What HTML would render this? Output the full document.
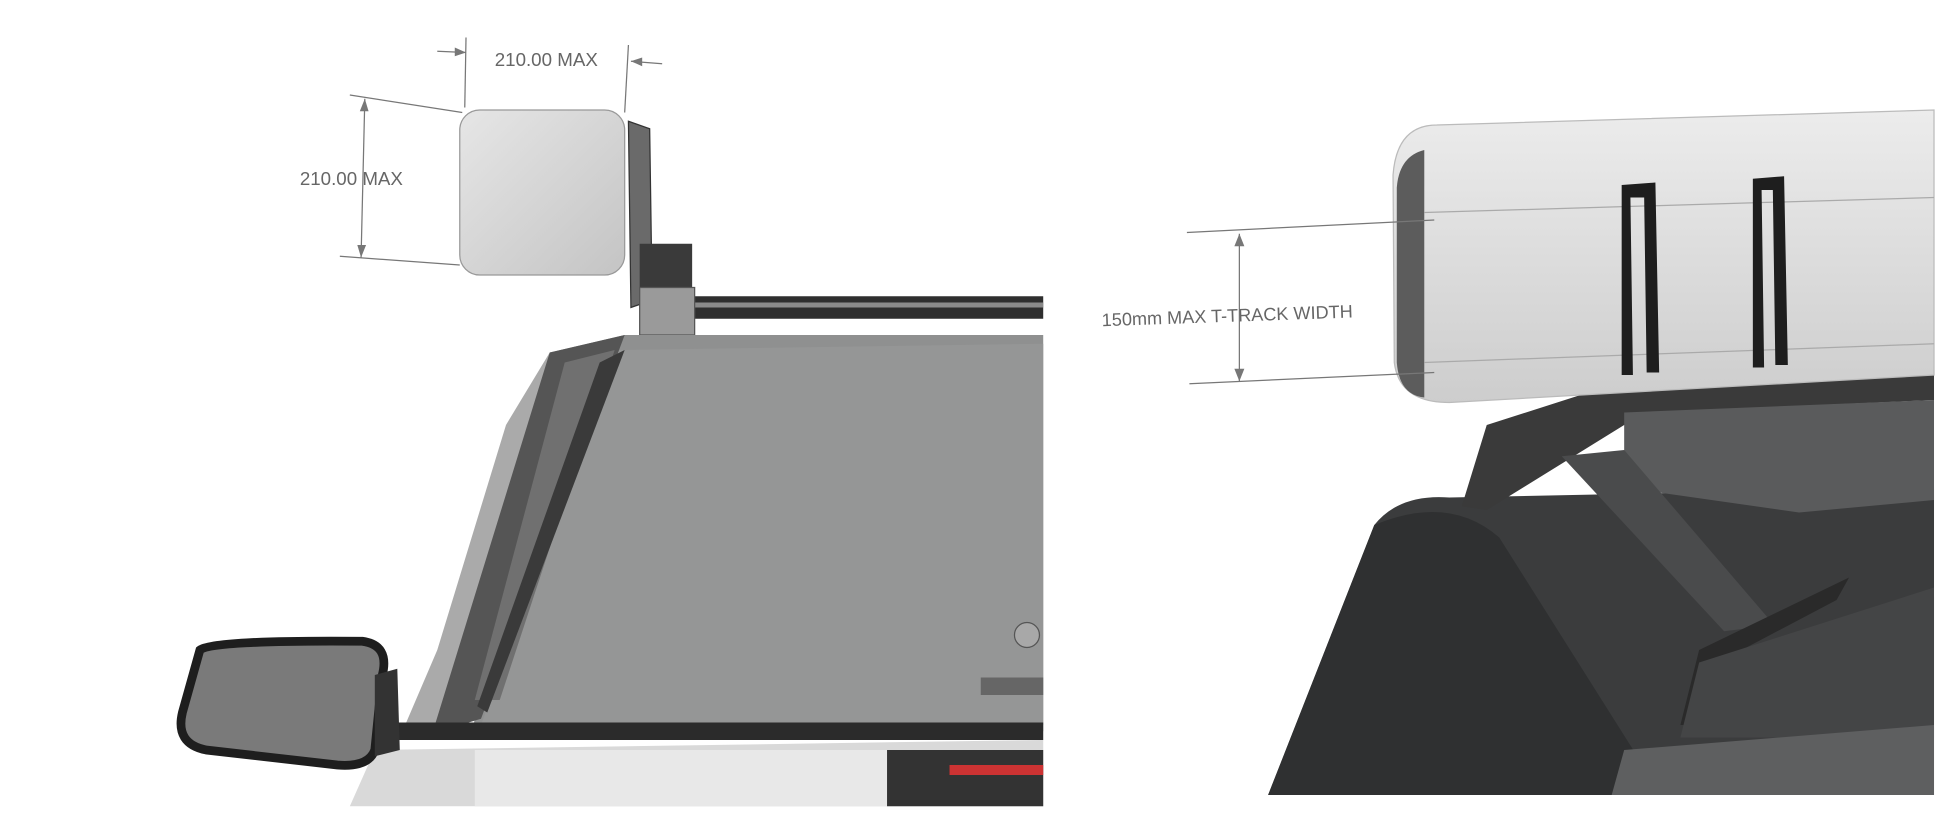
<!DOCTYPE html>
<html><head><meta charset="utf-8"><style>
html,body{margin:0;padding:0;background:#fff;}
svg{display:block;}
text{font-family:"Liberation Sans",sans-serif;fill:#666;}
</style></head><body>
<svg width="1959" height="825" viewBox="0 0 1568 660" xmlns="http://www.w3.org/2000/svg" preserveAspectRatio="none">
<defs>
<linearGradient id="box" x1="0" y1="0" x2="1" y2="1"><stop offset="0" stop-color="#e6e6e6"/><stop offset="1" stop-color="#c4c4c4"/></linearGradient>
<linearGradient id="lbox" x1="0" y1="0" x2="0" y2="1"><stop offset="0" stop-color="#ececec"/><stop offset="1" stop-color="#cdcdcd"/></linearGradient>
</defs>
<rect width="1568" height="660" fill="#fff"/>

<!-- LEFT PANEL -->
<rect x="550" y="237" width="285" height="18" fill="#2e2e2e"/>
<rect x="550" y="242" width="285" height="4" fill="#8a8a8a"/>
<polygon points="503,97 520,103 522,240 505,246" fill="#6a6a6a" stroke="#333"/>
<rect x="512" y="195" width="42" height="35" fill="#3a3a3a"/>
<rect x="512" y="230" width="44" height="38" fill="#9a9a9a" stroke="#555"/>
<rect x="368" y="88" width="132" height="132" rx="16" fill="url(#box)" stroke="#999"/>
<polygon points="440,282 500,268 835,268 835,585 378,585" fill="#8f9090"/>
<polygon points="495,280 835,275 835,580 385,580" fill="#959696"/>
<polygon points="440,282 500,268 385,575 335,590 345,540" fill="#555" />
<polygon points="452,290 492,280 400,560 380,560" fill="#707070"/>
<polygon points="480,290 500,280 390,570 382,565" fill="#3a3a3a"/>
<polygon points="440,282 405,340 350,520 320,590 345,590" fill="#aaa"/>
<rect x="315" y="578" width="520" height="14" fill="#2b2b2b"/>
<polygon points="300,600 835,592 835,645 280,645" fill="#d9d9d9"/>
<rect x="380" y="600" width="330" height="45" fill="#e8e8e8"/>
<rect x="710" y="600" width="125" height="45" fill="#333"/>
<rect x="760" y="612" width="75" height="8" fill="#c33"/>
<rect x="785" y="542" width="50" height="14" fill="#666"/>
<circle cx="822" cy="508" r="10" fill="#a8a8a8" stroke="#555"/>
<path d="M160,520 Q170,512 290,513 Q312,516 306,540 L300,600 Q295,614 270,612 L165,600 Q140,595 146,570 Z" fill="#7a7a7a" stroke="#1e1e1e" stroke-width="7"/>
<polygon points="300,540 318,535 320,600 300,605" fill="#333"/>

<g stroke="#777" stroke-width="1" fill="none">
<line x1="373" y1="30" x2="372" y2="86"/>
<line x1="503" y1="36" x2="500" y2="90"/>
<line x1="350" y1="41" x2="373" y2="42"/>
<line x1="505" y1="49" x2="530" y2="51"/>
<line x1="280" y1="76" x2="370" y2="90"/>
<line x1="272" y1="205" x2="368" y2="212"/>
<line x1="292" y1="79" x2="289" y2="206"/>
</g>
<g fill="#777">
<polygon points="373,42 364,38 364,45"/>
<polygon points="505,49 514,46 514,53"/>
<polygon points="292,79 288,89 295,89"/>
<polygon points="289,206 286,196 293,196"/>
</g>
<text x="396" y="53" font-size="15">210.00 MAX</text>
<text x="240" y="148" font-size="15">210.00 MAX</text>

<!-- RIGHT PANEL -->
<path d="M1015,636 L1100,420 Q1120,395 1160,398 L1548,390 L1548,636 Z" fill="#3b3c3d"/>
<path d="M1100,420 Q1160,395 1200,430 L1330,636 L1015,636 Z" fill="#2f3031"/>
<polygon points="1170,405 1190,340 1315,300 1548,290 1548,320 1320,330 1300,340 1190,408" fill="#3a3a3a"/>
<polygon points="1300,330 1548,320 1548,400 1440,410 1300,390" fill="#5a5b5c"/>
<polygon points="1250,365 1300,360 1420,500 1380,505" fill="#4a4b4c"/>
<polygon points="1345,580 1360,520 1480,462 1470,480 1375,530 1360,580" fill="#2a2a2a"/>
<polygon points="1360,530 1548,470 1548,590 1345,590" fill="#444546"/>
<polygon points="1300,600 1548,580 1548,636 1290,636" fill="#5e5f60"/>
<path d="M1150,100 L1548,88 L1548,300 L1160,322 Q1120,322 1116,290 L1115,140 Q1118,100 1150,100 Z" fill="url(#lbox)" stroke="#bbb"/>
<path d="M1118,150 Q1120,125 1140,120 L1140,318 Q1120,316 1118,290 Z" fill="#5c5c5c"/>
<line x1="1140" y1="170" x2="1548" y2="158" stroke="#aaa"/>
<line x1="1140" y1="290" x2="1548" y2="275" stroke="#aaa"/>
<polygon points="1298,148 1325,146 1328,298 1318,298 1316,158 1305,158 1307,300 1298,300" fill="#1e1e1e"/>
<polygon points="1403,143 1428,141 1431,292 1421,292 1419,152 1410,152 1412,294 1403,294" fill="#1e1e1e"/>
<g stroke="#777" stroke-width="1" fill="none">
<line x1="950" y1="186" x2="1148" y2="176"/>
<line x1="952" y1="307" x2="1148" y2="298"/>
<line x1="992" y1="187" x2="992" y2="305"/>
</g>
<g fill="#777">
<polygon points="992,187 988,197 996,197"/>
<polygon points="992,305 988,295 996,295"/>
</g>
<text x="882" y="261" font-size="14.5" transform="rotate(-2 882 261)">150mm MAX T-TRACK WIDTH</text>
</svg>
</body></html>
